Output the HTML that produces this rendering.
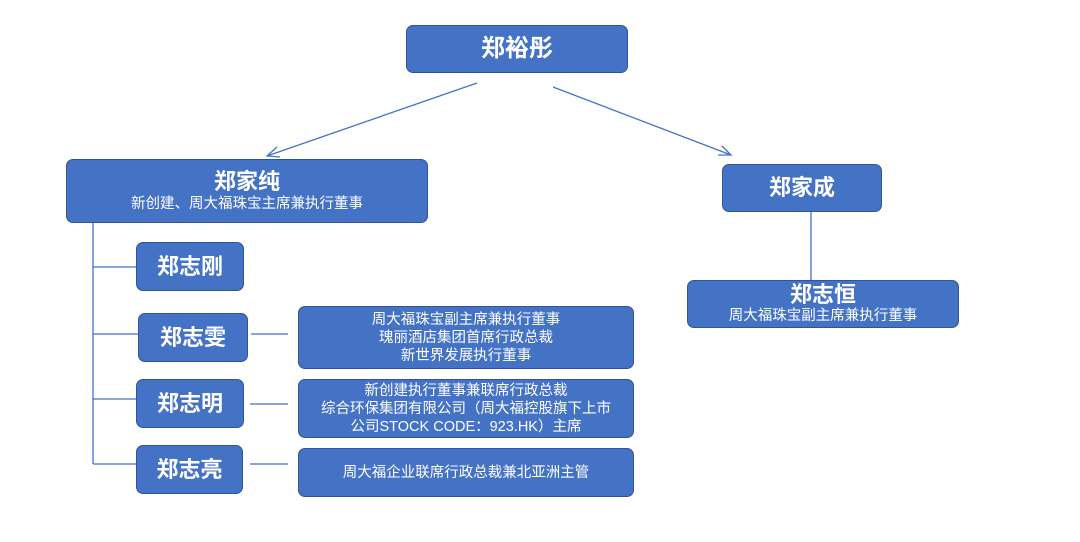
<!DOCTYPE html>
<html><head><meta charset="utf-8"><style>
body{margin:0;width:1080px;height:542px;background:#fff;position:relative;overflow:hidden;font-family:"Liberation Sans","Noto Sans CJK SC",sans-serif}
.b{position:absolute;box-sizing:border-box;background:#4472c4;border:1.5px solid #2f5597;border-radius:7px;color:#fff;display:flex;flex-direction:column;align-items:center;justify-content:center;text-align:center}
.n{font-size:22px;line-height:26px;font-weight:bold}
.s{font-size:14.5px;line-height:18px}
</style></head><body>
<svg width="1080" height="542" style="position:absolute;left:0;top:0">
<g stroke="#4472c4" stroke-width="1.3" fill="none">
<line x1="477" y1="83" x2="267" y2="156"/><polyline points="277,147 267,156 280,157"/>
<line x1="553" y1="87" x2="731" y2="155"/><polyline points="718,155 731,155 722,146"/>
<line x1="811" y1="212" x2="811" y2="280"/>
<line x1="93" y1="223" x2="93" y2="464"/>
<line x1="93" y1="267" x2="136" y2="267"/>
<line x1="93" y1="334" x2="138" y2="334"/>
<line x1="93" y1="399" x2="136" y2="399"/>
<line x1="93" y1="464" x2="136" y2="464"/>
<line x1="251" y1="334" x2="288" y2="334"/>
<line x1="250" y1="404" x2="288" y2="404"/>
<line x1="250" y1="464" x2="288" y2="464"/>
</g></svg>
<div class="b n" style="left:406px;top:25px;width:222px;height:48px;font-size:24px">郑裕彤</div>
<div class="b" style="left:66px;top:159px;width:362px;height:64px"><div class="n">郑家纯</div><div class="s">新创建、周大福珠宝主席兼执行董事</div></div>
<div class="b n" style="left:722px;top:164px;width:160px;height:48px">郑家成</div>
<div class="b" style="left:687px;top:280px;width:272px;height:48px"><div class="n" style="line-height:24px">郑志恒</div><div class="s">周大福珠宝副主席兼执行董事</div></div>
<div class="b n" style="left:136px;top:242px;width:108px;height:49px">郑志刚</div>
<div class="b n" style="left:138px;top:313px;width:110px;height:49px">郑志雯</div>
<div class="b n" style="left:136px;top:379px;width:108px;height:49px">郑志明</div>
<div class="b n" style="left:136px;top:445px;width:107px;height:49px">郑志亮</div>
<div class="b s" style="left:298px;top:306px;width:336px;height:63px">周大福珠宝副主席兼执行董事<br>瑰丽酒店集团首席行政总裁<br>新世界发展执行董事</div>
<div class="b s" style="left:298px;top:379px;width:336px;height:59px">新创建执行董事兼联席行政总裁<br>综合环保集团有限公司（周大福控股旗下上市<br>公司STOCK CODE：923.HK）主席</div>
<div class="b s" style="left:298px;top:448px;width:336px;height:49px">周大福企业联席行政总裁兼北亚洲主管</div>
</body></html>
